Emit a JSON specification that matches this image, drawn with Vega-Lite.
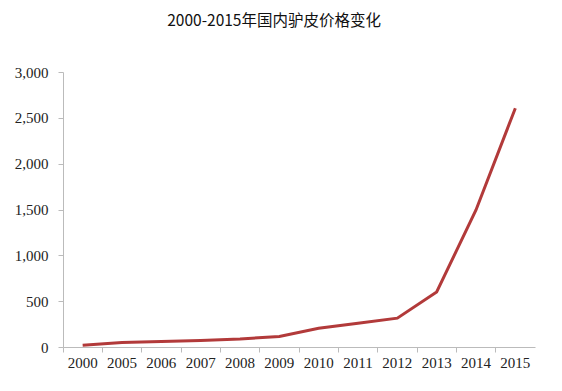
{
  "$schema": "https://vega.github.io/schema/vega-lite/v6.json",
  "width": 472,
  "height": 275,
  "autosize": {"type": "none"},
  "padding": {"left": 63, "top": 72, "right": 27, "bottom": 44},
  "background": "white",
  "title": {
    "text": "2000-2015年国内驴皮价格变化",
    "font": "Noto Sans CJK SC",
    "fontSize": 15.5,
    "fontWeight": "normal",
    "color": "#111",
    "anchor": "start",
    "dx": 153,
    "offset": 36
  },
  "data": {
    "values": [
      {"year": "2000", "price": 20},
      {"year": "2005", "price": 50},
      {"year": "2006", "price": 60},
      {"year": "2007", "price": 72},
      {"year": "2008", "price": 88},
      {"year": "2009", "price": 115},
      {"year": "2010", "price": 205},
      {"year": "2011", "price": 258},
      {"year": "2012", "price": 315},
      {"year": "2013", "price": 600},
      {"year": "2014", "price": 1495},
      {"year": "2015", "price": 2605}
    ]
  },
  "mark": {"type": "line", "color": "#b23a3a", "strokeWidth": 3},
  "encoding": {
    "x": {
      "field": "year",
      "type": "ordinal",
      "scale": {"type": "band", "paddingInner": 0, "paddingOuter": 0},
      "axis": {
        "title": null,
        "labelAngle": 0,
        "bandPosition": 0,
        "labelFont": "Liberation Serif",
        "labelFontSize": 15,
        "labelColor": "#222",
        "labelPadding": 3,
        "domainColor": "#bbb",
        "tickColor": "#bbb",
        "tickSize": 5,
        "grid": false
      }
    },
    "y": {
      "field": "price",
      "type": "quantitative",
      "scale": {"domain": [0, 3000]},
      "axis": {
        "title": null,
        "values": [0, 500, 1000, 1500, 2000, 2500, 3000],
        "format": ",.0f",
        "labelFont": "Liberation Serif",
        "labelFontSize": 15,
        "labelColor": "#222",
        "labelPadding": 10,
        "domainColor": "#bbb",
        "tickColor": "#bbb",
        "tickSize": 5,
        "grid": false
      }
    }
  },
  "config": {"view": {"stroke": null}}
}
